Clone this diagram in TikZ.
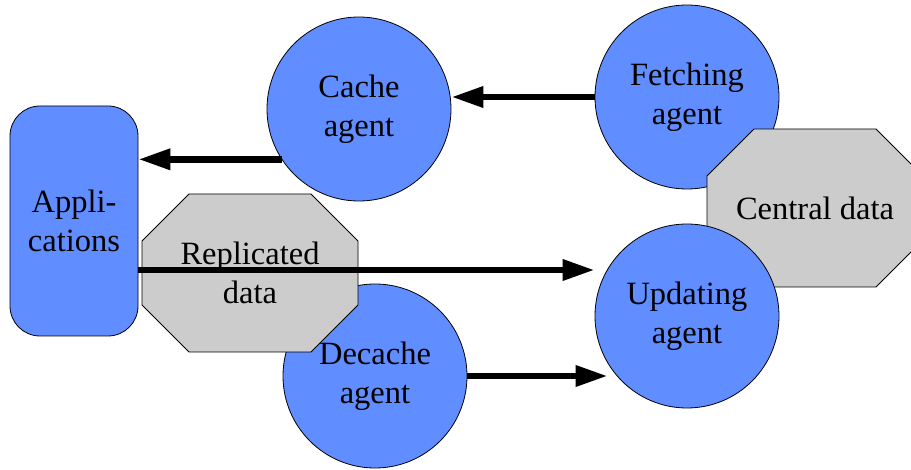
\documentclass[tikz,border=0pt]{standalone}
\usepackage{fontspec}
\setmainfont{Liberation Serif}
\usetikzlibrary{arrows.meta}
\definecolor{agentblue}{RGB}{96,141,255}
\definecolor{datagray}{RGB}{204,204,204}
% octagon outline for a data store, drawn round a centre coordinate
\newcommand{\databox}[1]{%
  \filldraw[draw=black,line width=0.8pt,fill=datagray] (#1) ++(-108,-32)
    -- ++(47,-47) -- ++(122,0) -- ++(47,47) -- ++(0,64)
    -- ++(-47,47) -- ++(-122,0) -- ++(-47,-47) -- cycle;}

\begin{document}
\begin{tikzpicture}[x=1pt,y=-1pt,
    font=\fontsize{32.5}{39}\selectfont,
    agent/.style={circle,draw=black,line width=0.8pt,fill=agentblue,
      minimum size=184pt,inner sep=0pt,align=center},
    app/.style={draw=black,line width=0.8pt,rounded corners=30pt,fill=agentblue,
      minimum width=128pt,minimum height=230pt,align=center},
    store/.style={inner sep=0pt,minimum width=216pt,minimum height=158pt,align=center},
    arr/.style={-{Triangle[length=32pt,width=20pt]},line width=6.5pt}
  ]
    \useasboundingbox (0,0) rectangle (911,470);
    \node[agent] (dec) at (375,376) {Decache\\agent};
    \coordinate (replc) at (250,273);
    \databox{replc}
    \node[store] (repl) at (replc) {Replicated\\data};
    \node[agent] (fetch) at (687,97) {Fetching\\agent};
    \coordinate (centralc) at (815,208);
    \databox{centralc}
    \node[store] (central) at (centralc) {Central data};
    \node[agent] (upd) at (687,316) {Updating\\agent};
    \node[agent] (cache) at (359,109) {Cache\\agent};
    \node[app] (apps) at (74,221) {Appli-\\cations};
    \draw[arr] (fetch.west) -- (cache.east |- fetch.west);
    \draw[arr] (cache.213) -- (apps.east |- cache.213);
    \draw[arr] ([yshift=-49pt]apps.east) -- ([yshift=-49pt]apps.east -| upd.west);
    \draw[arr] (dec.east) -- ([xshift=13pt]dec.east -| upd.west);
  \end{tikzpicture}
\end{document}
